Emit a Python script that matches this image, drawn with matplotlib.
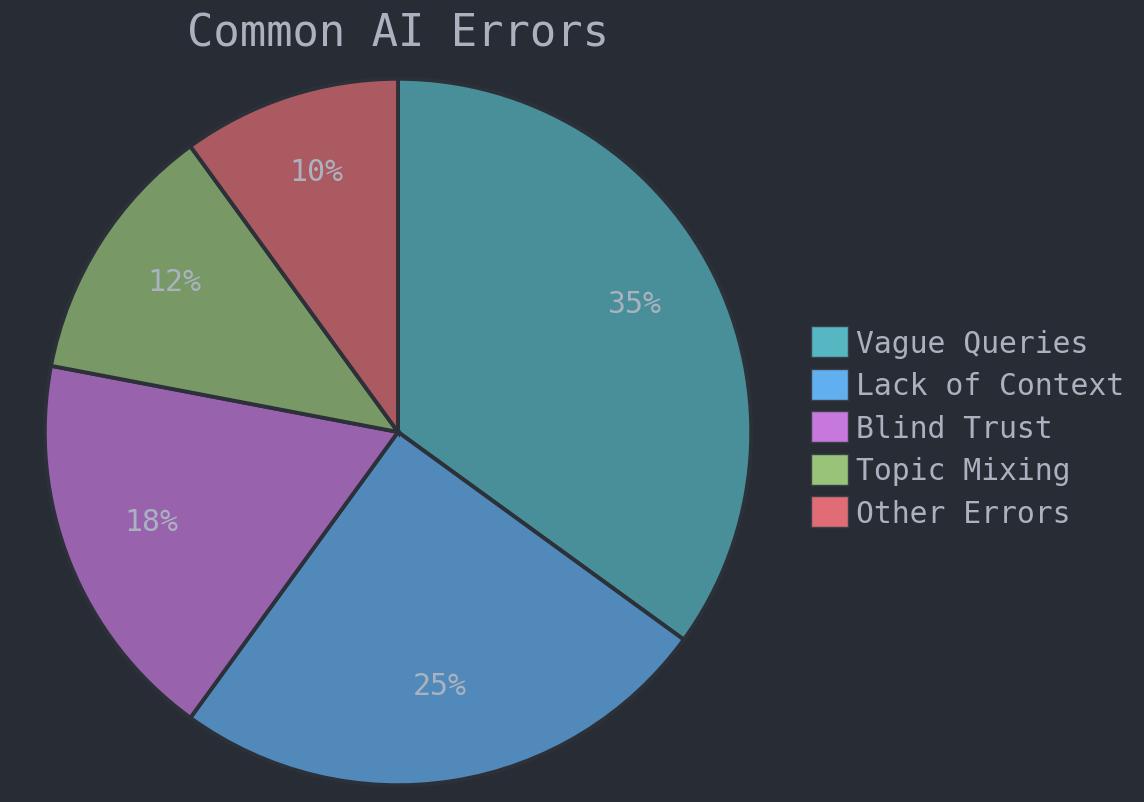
import matplotlib
matplotlib.use("Agg")
import matplotlib.pyplot as plt
from matplotlib.colors import to_rgba
from matplotlib.patches import Patch

labels = ["Vague Queries", "Lack of Context", "Blind Trust", "Topic Mixing", "Other Errors"]
values = [35, 25, 18, 12, 10]
colors = ["#56b6c2", "#61afef", "#c678dd", "#98c379", "#e06c75"]

bg = "#282c34"
fg = "#abb2bf"
edge = "#2c3039"
plt.rcParams["font.family"] = ["DejaVu Sans Mono"]

fig = plt.figure(figsize=(11.44, 8.03), dpi=100, facecolor=bg)
ax = fig.add_axes([43 / 1144, 15 / 803, 710 / 1144, 710 / 803])
ax.set_facecolor(bg)

# pie fill is the palette colour faded into the background
fills = [to_rgba(c, 0.72) for c in colors]
wedges, texts, autotexts = ax.pie(
    values, colors=fills, startangle=90, counterclock=False,
    autopct="%d%%", pctdistance=0.75, radius=1,
    wedgeprops=dict(edgecolor=edge, linewidth=2.8),
    textprops=dict(color=fg, fontsize=21.5),
)
for t in autotexts:
    t.set_color(fg)
    t.set_verticalalignment("baseline")

ax.set_xlim(-1.005, 1.005)
ax.set_ylim(-1.005, 1.005)
ax.set_aspect("equal")
ax.axis("off")

fig.text(398 / 1144, 1 - 34 / 803, "Common AI Errors", color=fg,
         fontsize=31.6, ha="center", va="center")

handles = [Patch(facecolor=c, edgecolor="#3a3f4a", linewidth=1) for c in colors]
leg = fig.legend(handles, labels, loc="center left",
                 bbox_to_anchor=(811 / 1144, 1 - 428 / 803),
                 frameon=False, fontsize=21.4, handlelength=1.23,
                 handleheight=1.23, labelspacing=0.37, handletextpad=0.3,
                 borderaxespad=0, borderpad=0)
for t in leg.get_texts():
    t.set_color(fg)

fig.savefig("out.png", dpi=100, facecolor=bg)
